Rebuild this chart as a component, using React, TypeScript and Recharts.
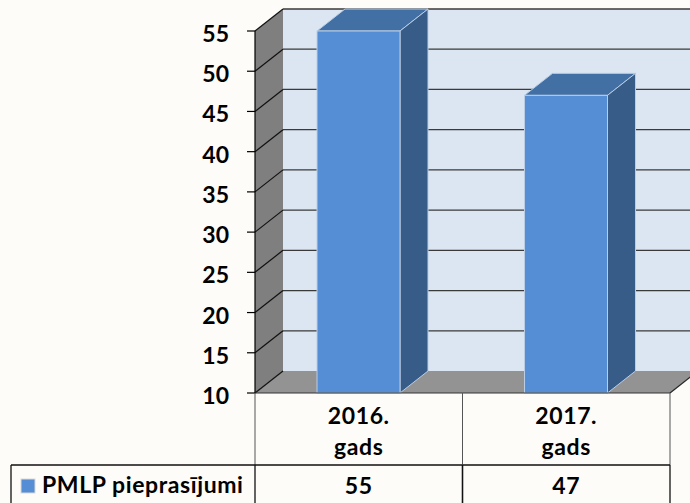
import { BarChart, Bar, XAxis, YAxis, CartesianGrid } from "recharts";

const categories = ["2016. gads", "2017. gads"];
const requests = [55, 47];
const yTicks = [10, 15, 20, 25, 30, 35, 40, 45, 50, 55];
const seriesName = "PMLP pieprasījumi";

const data = categories.map((category, i) => ({ category, requests: requests[i] }));

// 3D depth offset
const DX = 28;
const DY = 22;
const FONT = "Lato, 'Open Sans', sans-serif";
const FONT_SIZE = 23;
const BAR_FRONT = "#558ED5";

const Box3D = (props: any) => {
  const { x, y, width, height } = props;
  const r = x + width;
  const b = y + height;
  return (
    <g>
      <polygon
        points={`${x},${y} ${x + DX},${y - DY} ${r + DX},${y - DY} ${r},${y}`}
        fill="#4270A5"
        stroke="#B9CDE5"
        strokeWidth={1}
      />
      <polygon
        points={`${r},${y} ${r + DX},${y - DY} ${r + DX},${b - DY} ${r},${b}`}
        fill="#375C88"
        stroke="#B9CDE5"
        strokeWidth={1}
      />
      <rect x={x} y={y} width={width} height={height} fill={BAR_FRONT} stroke="#B9CDE5" strokeWidth={1} />
    </g>
  );
};

// walls, floor and gridlines
const WallLine = (props: any) => {
  const { x, y, width, height, x1, y1, index } = props;
  const right = x + width;
  const bottom = y + height;
  const isFloor = Math.abs(y1 - bottom) < 0.5;
  return (
    <g key={props.key}>
      {index === 0 && (
        <g>
          <polygon
            points={`${x + DX},${y - DY} ${right + DX},${y - DY} ${right + DX},${bottom - DY} ${x + DX},${bottom - DY}`}
            fill="#DCE6F2"
          />
          <polygon
            points={`${x},${y} ${x + DX},${y - DY} ${x + DX},${bottom - DY} ${x},${bottom}`}
            fill="#7F7F7F"
          />
          <polygon
            points={`${x},${bottom} ${right},${bottom} ${right + DX},${bottom - DY} ${x + DX},${bottom - DY}`}
            fill="#939393"
          />
          <line x1={right} y1={bottom} x2={right + DX} y2={bottom - DY} stroke="#262626" strokeWidth={1.2} />
        </g>
      )}
      <line x1={x1} y1={y1} x2={x1 + DX} y2={y1 - DY} stroke="#111" strokeWidth={1.2} />
      {!isFloor && (
        <line x1={x1 + DX} y1={y1 - DY} x2={right + DX} y2={y1 - DY} stroke="#3A3A3A" strokeWidth={1.3} />
      )}
    </g>
  );
};

const YTick = ({ x, y, payload }: any) => (
  <text x={x} y={y} dy={11} textAnchor="end" fill="#000" fontSize={FONT_SIZE} fontWeight={700} fontFamily={FONT}>
    {payload.value}
  </text>
);

// data table under the plot, with the legend cell on the first column
const TableCell = ({ x, y, payload, index }: any) => {
  const i = payload.index ?? index ?? 0;
  const half = payload.offset ?? 103.75;
  const left = x - half;
  const right = x + half;
  const [line1, line2] = String(payload.value).split(" ");
  const rowY = y + 72;
  const bottomY = y + 112;
  const txt = {
    fill: "#000",
    fontSize: FONT_SIZE,
    fontWeight: 700,
    fontFamily: FONT,
    letterSpacing: 0.6,
    textAnchor: "middle" as const,
  };
  return (
    <g>
      <text x={x} y={y + 31} {...txt}>{line1}</text>
      <text x={x} y={y + 62} {...txt}>{line2}</text>
      <text x={x} y={y + 101} {...txt}>{requests[i]}</text>
      <line x1={left} y1={y} x2={right} y2={y} stroke="#333" strokeWidth={1} />
      <line x1={left} y1={y} x2={left} y2={rowY} stroke="#555" strokeWidth={1} />
      <line x1={right} y1={y} x2={right} y2={rowY} stroke="#555" strokeWidth={1} />
      <line x1={left} y1={rowY} x2={left} y2={bottomY} stroke="#111" strokeWidth={1.3} />
      <line x1={right} y1={rowY} x2={right} y2={bottomY} stroke="#111" strokeWidth={1.3} />
      <line x1={left} y1={rowY} x2={right} y2={rowY} stroke="#111" strokeWidth={1.3} />
      {i === 0 && (
        <g>
          <line x1={left - 244} y1={rowY} x2={left} y2={rowY} stroke="#111" strokeWidth={1.3} />
          <line x1={left - 244} y1={rowY} x2={left - 244} y2={bottomY} stroke="#111" strokeWidth={1.3} />
          <rect x={left - 234} y={y + 86} width={14} height={14} fill={BAR_FRONT} stroke="#D9D9D9" strokeWidth={1} />
          <text x={left - 213} y={y + 100} {...txt} textAnchor="start">
            {seriesName}
          </text>
        </g>
      )}
    </g>
  );
};

const App = () => {
  return (
    <div style={{ position: "absolute", left: 0, top: 0, width: 690, height: 503, background: "#FDFCF8" }}>
      <BarChart
        width={690}
        height={503}
        data={data}
        margin={{ top: 31, right: 20, left: 0, bottom: 0 }}
        style={{ fontFamily: FONT }}
      >
        <CartesianGrid vertical={false} horizontal={(p: any) => <WallLine {...p} />} />
        <XAxis
          dataKey="category"
          height={110}
          interval={0}
          tickLine={false}
          axisLine={false}
          tickSize={0}
          tickMargin={0}
          tick={(p: any) => <TableCell {...p} />}
        />
        <YAxis
          type="number"
          domain={[10, 55]}
          ticks={yTicks}
          interval={0}
          width={255}
          axisLine={{ stroke: "#000", strokeWidth: 1.2 }}
          tickLine={{ stroke: "#000", strokeWidth: 1.2 }}
          tickSize={8}
          tickMargin={18}
          tick={(p: any) => <YTick {...p} />}
        />
        <Bar
          dataKey="requests"
          name={seriesName}
          fill={BAR_FRONT}
          barSize={83}
          shape={(p: any) => <Box3D {...p} />}
          isAnimationActive={false}
        />
      </BarChart>
    </div>
  );
};

export default App;
